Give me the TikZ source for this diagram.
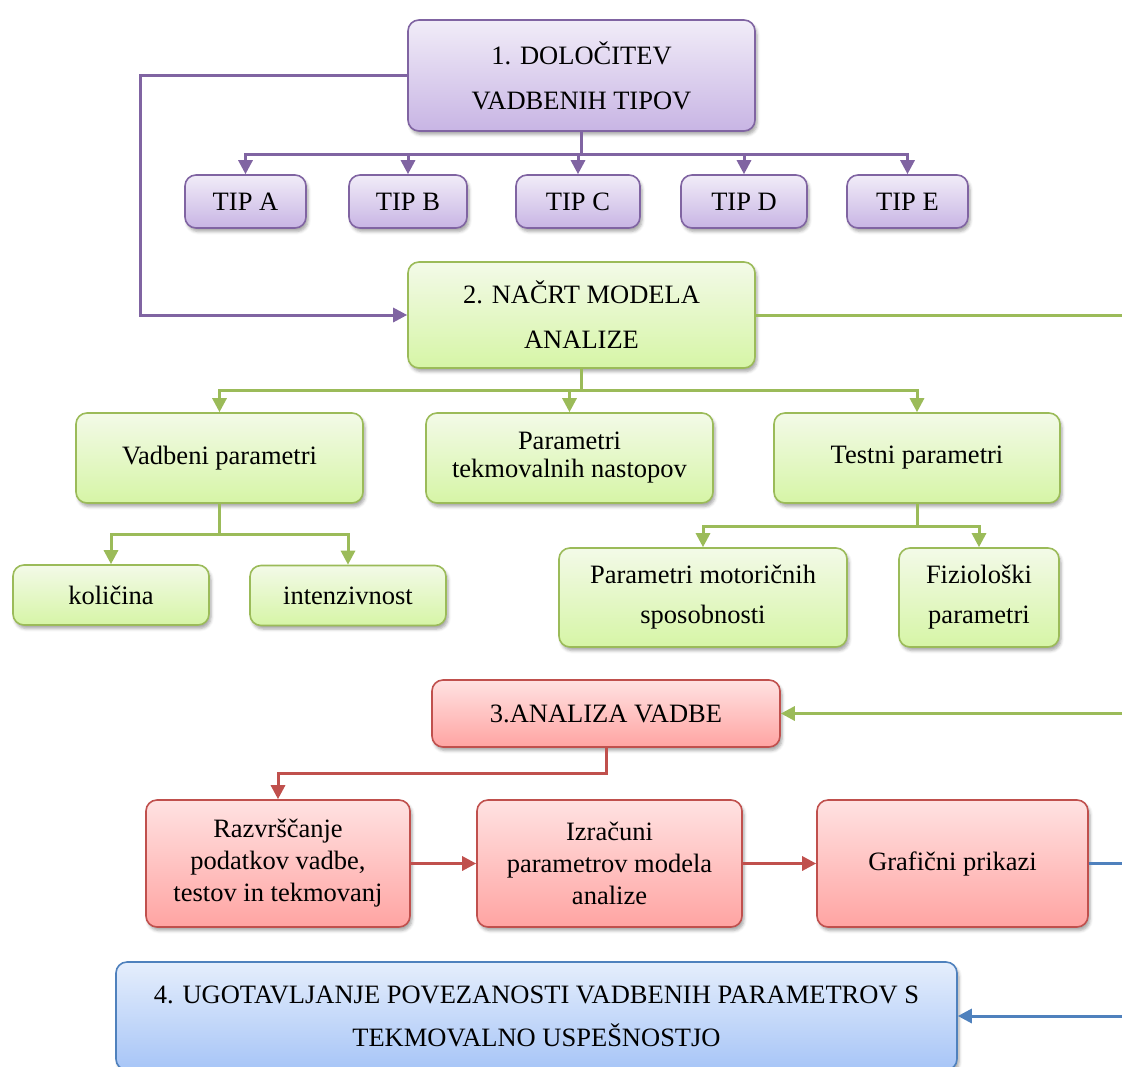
\documentclass[tikz,border=0pt]{standalone}
\usepackage{fontspec}
\setmainfont{Liberation Serif}
\usetikzlibrary{arrows.meta,shadows.blur}
\definecolor{pborder}{HTML}{8064A2}
\definecolor{ptop}{HTML}{F1ECF8}
\definecolor{pbot}{HTML}{C8B5E4}
\definecolor{gborder}{HTML}{9BBB59}
\definecolor{gtop}{HTML}{F3FAE8}
\definecolor{gbot}{HTML}{D6F5A6}
\definecolor{rborder}{HTML}{C0504D}
\definecolor{rtop}{HTML}{FFE2E2}
\definecolor{rbot}{HTML}{FFA4A2}
\definecolor{bborder}{HTML}{4F81BD}
\definecolor{btop}{HTML}{E5EEFC}
\definecolor{bbot}{HTML}{A7C5F7}
\tikzset{
  box/.style={rounded corners=11pt, line width=1.6pt, inner sep=0pt, align=center,
    font=\fontsize{26.5}{30}\selectfont,
    blur shadow={shadow xshift=2pt, shadow yshift=-3.5pt, shadow blur radius=3pt, shadow opacity=35}},
  pbox/.style={box, draw=pborder, top color=ptop, bottom color=pbot},
  gbox/.style={box, draw=gborder, top color=gtop, bottom color=gbot},
  rbox/.style={box, draw=rborder, top color=rtop, bottom color=rbot},
  bbox/.style={box, draw=bborder, top color=btop, bottom color=bbot},
  sp/.style={font=\fontsize{26.5}{#1}\selectfont},
  conn/.style={line width=3pt},
  tipped/.style={conn, -{Triangle[length=14pt,width=14pt]}},
  pl/.style={conn, draw=pborder},
  pa/.style={tipped, draw=pborder},
  gl/.style={conn, draw=gborder},
  ga/.style={tipped, draw=gborder},
  rl/.style={conn, draw=rborder},
  ra/.style={tipped, draw=rborder},
  bl/.style={conn, draw=bborder},
  ba/.style={tipped, draw=bborder},
}
\begin{document}
\begin{tikzpicture}[x=1pt,y=-1pt]
\useasboundingbox (0,0) rectangle (1122,1066);
% level 1
\node[pbox, sp=45, minimum width=347pt, minimum height=111pt] (b1) at (581.5,75.5) {1. DOLOČITEV\\VADBENIH TIPOV};
\node[pbox, minimum width=121pt, minimum height=53pt] (tA) at (245.5,201.5) {TIP A};
\node[pbox, minimum width=118pt, minimum height=53pt] (tB) at (408,201.5) {TIP B};
\node[pbox, minimum width=124pt, minimum height=53pt] (tC) at (578,201.5) {TIP C};
\node[pbox, minimum width=126pt, minimum height=53pt] (tD) at (744,201.5) {TIP D};
\node[pbox, minimum width=121pt, minimum height=53pt] (tE) at (907.5,201.5) {TIP E};
% level 2
\node[gbox, sp=45, minimum width=347pt, minimum height=106pt] (b2) at (581.5,315) {2. NAČRT MODELA\\ANALIZE};
\node[gbox, minimum width=287pt, minimum height=90pt] (g1) at (219.5,458) {Vadbeni parametri};
\node[gbox, sp=28, minimum width=287pt, minimum height=90pt] (g2) at (569.5,458) {Parametri\\tekmovalnih nastopov};
\node[gbox, minimum width=286pt, minimum height=90pt] (g3) at (917,458) {Testni parametri};
\node[gbox, minimum width=196pt, minimum height=60pt] (g11) at (111,595) {količina};
\node[gbox, minimum width=196pt, minimum height=60pt] (g12) at (348,595.5) {intenzivnost};
\node[gbox, sp=40, minimum width=288pt, minimum height=99pt] (g31) at (703,597.5) {Parametri motoričnih\\sposobnosti};
\node[gbox, sp=40, minimum width=160pt, minimum height=99pt] (g32) at (979,597.5) {Fiziološki\\parametri};
% level 3
\node[rbox, minimum width=348pt, minimum height=67pt] (b3) at (606,713.5) {3.ANALIZA VADBE};
\node[rbox, sp=32, minimum width=264pt, minimum height=127pt] (r1) at (278,863.5) {Razvrščanje\\podatkov vadbe,\\testov in tekmovanj};
\node[rbox, sp=32, minimum width=265pt, minimum height=127pt] (r2) at (609.5,863.5) {Izračuni\\parametrov modela\\analize};
\node[rbox, minimum width=271pt, minimum height=127pt] (r3) at (952.5,863.5) {Grafični prikazi};
% level 4
\node[bbox, sp=43, minimum width=841pt, minimum height=108pt] (b4) at (536.5,1016) {4. UGOTAVLJANJE POVEZANOSTI VADBENIH PARAMETROV S\\TEKMOVALNO USPEŠNOSTJO};
% edge coordinates
\coordinate (gR1) at (1126,315);
\coordinate (gR2) at (1126,713.5);
\coordinate (bR1) at (1126,863.5);
\coordinate (bR2) at (1126,1016);
% purple connectors
\draw[pl] (b1.south) -- ++(0,23);
\foreach \t in {tA,tB,tC,tD,tE}{\draw[pa] (b1.south) ++(0,23) -| (\t.north);}
\draw[pa] (b1.west) -- ++(-267,0) |- (b2.west);
% green connectors
\draw[gl] (b2.east) -- (gR1);
\draw[ga] (gR2) -- (b3.east);
\draw[gl] (b2.south) -- ++(0,22);
\foreach \t in {g1,g2,g3}{\draw[ga] (b2.south) ++(0,22) -| (\t.north);}
\draw[gl] (g1.south) -- ++(0,31);
\foreach \t in {g11,g12}{\draw[ga] (g1.south) ++(0,31) -| (\t.north);}
\draw[gl] (g3.south) -- ++(0,23);
\foreach \t in {g31,g32}{\draw[ga] (g3.south) ++(0,23) -| (\t.north);}
% red connectors
\draw[ra] (b3.south) -- ++(0,26) -| (r1.north);
\draw[ra] (r1.east) -- (r2.west);
\draw[ra] (r2.east) -- (r3.west);
% blue connectors
\draw[bl] (r3.east) -- (bR1);
\draw[ba] (bR2) -- (b4.east);
\end{tikzpicture}
\end{document}
